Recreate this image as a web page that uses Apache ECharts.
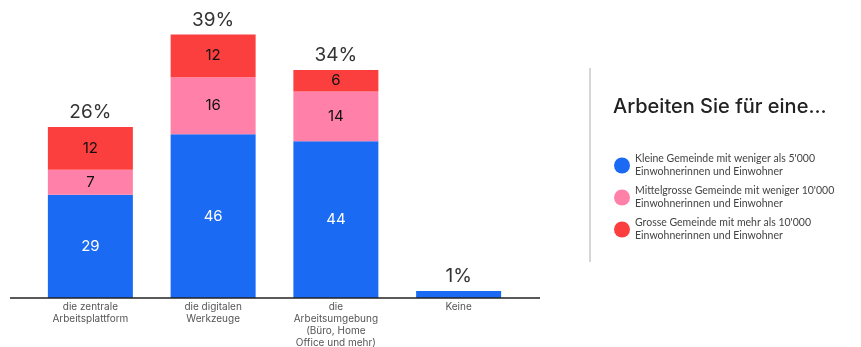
<!DOCTYPE html>
<html>
<head>
<meta charset="utf-8">
<script src="https://cdn.jsdelivr.net/npm/echarts@6/dist/echarts.min.js"></script>
<style>
  html, body { margin: 0; padding: 0; background: #fff; }
  #chart { width: 861px; height: 347px; }
</style>
</head>
<body>
<div id="chart"></div>
<script>
// Kategorien und Werte
const categories = [
    'die zentrale\nArbeitsplattform',
    'die digitalen\nWerkzeuge',
    'die\nArbeitsumgebung\n(Büro, Home\nOffice und mehr)',
    'Keine'
];
const kleine = [29, 46, 44, 2];
const mittel = [7, 16, 14, 0];
const grosse = [12, 12, 6, 0];
const totals = ['26%', '39%', '34%', '1%'];

const seriesNames = [
    'Kleine Gemeinde mit weniger als 5\'000\nEinwohnerinnen und Einwohner',
    'Mittelgrosse Gemeinde mit weniger 10\'000\nEinwohnerinnen und Einwohner',
    'Grosse Gemeinde mit mehr als 10\'000\nEinwohnerinnen und Einwohner'
];
const colors = ['#1a6af3', '#ff80a8', '#fb3f3f'];

const chart = echarts.init(document.getElementById('chart'));

function segLabel(color) {
    return {
        show: true,
        position: 'inside',
        color: color,
        fontSize: 15,
        fontFamily: 'Inter',
        formatter: function (p) { return p.value < 5 ? '' : p.value; }
    };
}

const option = {
    backgroundColor: '#fff',
    textStyle: { fontFamily: 'Inter' },
    title: {
        text: 'Arbeiten Sie für eine...',
        left: 608,
        top: 92,
        textStyle: { fontSize: 20, fontWeight: 500, color: '#222', fontFamily: 'Inter' }
    },
    legend: {
        data: seriesNames,
        orient: 'vertical',
        left: 609,
        top: 141,
        icon: 'circle',
        itemWidth: 16,
        itemHeight: 16,
        itemGap: -7,
        selectedMode: false,
        textStyle: {
            fontSize: 10.5,
            color: '#444',
            lineHeight: 13,
            padding: [13, 0, 0, 0],
            fontFamily: 'Lato'
        }
    },
    grid: { left: 29, top: 13, width: 491, bottom: 49, outerBoundsMode: 'none' },
    xAxis: {
        type: 'category',
        data: categories,
        axisTick: { show: false },
        axisLine: { show: false },
        axisLabel: {
            interval: 0,
            margin: 3,
            fontSize: 10,
            lineHeight: 12,
            color: '#555',
            fontFamily: 'Inter'
        }
    },
    yAxis: { type: 'value', min: 0, max: 80, show: false },
    graphic: [
        { type: 'line', z: 10, shape: { x1: 10, y1: 298, x2: 540, y2: 298 }, style: { stroke: '#222', lineWidth: 1.5 } },
        { type: 'line', shape: { x1: 590, y1: 68, x2: 590, y2: 262 }, style: { stroke: '#d5d5da', lineWidth: 2 } }
    ],
    series: [
        { name: seriesNames[0], type: 'bar', stack: 'a', barWidth: 85, data: kleine,
          itemStyle: { color: colors[0] }, label: segLabel('#fff') },
        { name: seriesNames[1], type: 'bar', stack: 'a', barWidth: 85, data: mittel,
          itemStyle: { color: colors[1] }, label: segLabel('#111') },
        { name: seriesNames[2], type: 'bar', stack: 'a', barWidth: 85, data: grosse,
          itemStyle: { color: colors[2] }, label: segLabel('#111') },
        { name: 'total', type: 'bar', stack: 'a', barWidth: 85, data: [0, 0, 0, 0],
          itemStyle: { color: 'transparent' },
          label: {
              show: true, position: 'top', distance: 5,
              fontSize: 19, color: '#333', fontFamily: 'Inter',
              formatter: function (p) { return totals[p.dataIndex]; }
          } }
    ]
};
chart.setOption(option);
</script>
</body>
</html>
